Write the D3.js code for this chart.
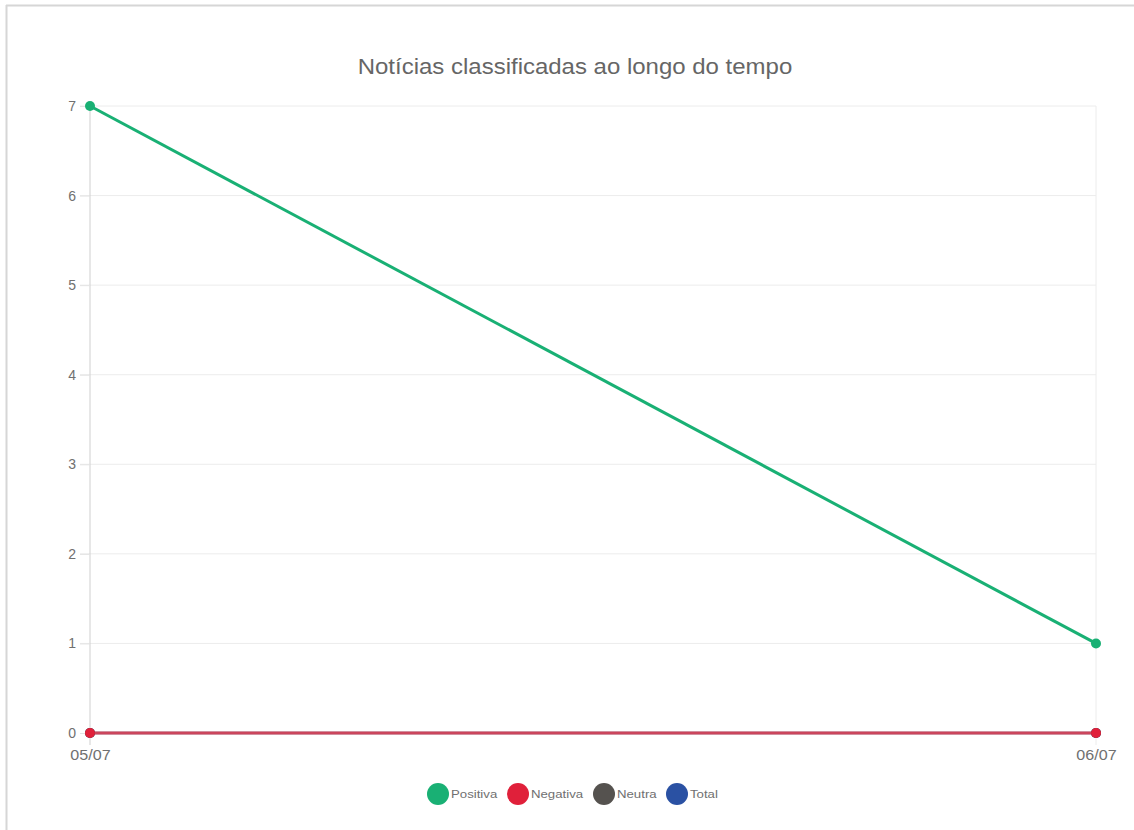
<!DOCTYPE html>
<html><head><meta charset="utf-8">
<script src="https://cdn.jsdelivr.net/npm/d3@7"></script>
<style>body{margin:0;background:#fff;}svg{display:block;font-family:"Liberation Sans",Arial,sans-serif;}</style>
</head><body><svg id="c" width="1134" height="830"></svg>
<script>
const categories = ["05/07", "06/07"];
const seriesNames = ["Positiva", "Negativa", "Neutra", "Total"];
const positiva = [7, 1];
const negativa = [0, 0];
const neutra = [0, 0];
const total = [0, 0];
const yTicks = [0, 1, 2, 3, 4, 5, 6, 7];
const colors = {Positiva: "#19b074", Negativa: "#e0203a", Neutra: "#55524f", Total: "#2a51a3"};
const title = "Notícias classificadas ao longo do tempo";

const svg = d3.select("#c");
function stretch(sel, f) {
  sel.each(function() {
    const l = this.getComputedTextLength();
    d3.select(this).attr("textLength", l * f).attr("lengthAdjust", "spacingAndGlyphs");
  });
}
// outer frame (top + left visible)
svg.append("line").attr("x1", 6).attr("x2", 1134).attr("y1", 5.5).attr("y2", 5.5).attr("stroke", "#d6d6d6").attr("stroke-width", 2);
svg.append("line").attr("x1", 6.5).attr("x2", 6.5).attr("y1", 5).attr("y2", 830).attr("stroke", "#d6d6d6").attr("stroke-width", 2);

const x = d3.scalePoint().domain(categories).range([90, 1096]);
const y = d3.scaleLinear().domain([0, 7]).range([733, 106]);

// gridlines
const g = svg.append("g");
g.selectAll(".hg").data(yTicks.filter(d => d > 0)).enter().append("line")
  .attr("x1", 80).attr("x2", 1096).attr("y1", d => y(d)).attr("y2", d => y(d))
  .attr("stroke", "#ececec").attr("stroke-width", 1);
g.append("line").attr("x1", x(categories[1])).attr("x2", x(categories[1])).attr("y1", 106).attr("y2", 745).attr("stroke", "#ececec");

// y axis
const yAxis = svg.append("g").attr("transform", "translate(90,0)")
  .call(d3.axisLeft(y).tickValues(yTicks).tickFormat(d3.format("d")).tickSize(10).tickPadding(4));
yAxis.select(".domain").attr("stroke", "#cfcfcf").attr("d", "M0,106V745");
yAxis.selectAll(".tick line").attr("stroke", "#e3e3e3");
yAxis.selectAll("text").attr("fill", "#707070").attr("font-size", 14);

// x axis
const xAxis = svg.append("g").attr("transform", "translate(0,733)")
  .call(d3.axisBottom(x).tickSize(0).tickPadding(17));
xAxis.select(".domain").remove();
xAxis.selectAll("text").attr("fill", "#707070").attr("font-size", 14).call(stretch, 1.15);
svg.append("line").attr("x1", 90).attr("x2", 1096).attr("y1", 733).attr("y2", 733).attr("stroke", "#dedede");

// title
svg.append("text").attr("x", 575).attr("y", 74).attr("text-anchor", "middle")
  .attr("fill", "#666").attr("font-size", 22).text(title).call(stretch, 1.09);

const line = d3.line().x((d, i) => x(categories[i])).y(d => y(d));
const data = [
  {name: "Total", values: total, op: 0.25},
  {name: "Neutra", values: neutra, op: 0.35},
  {name: "Positiva", values: positiva, op: 1},
  {name: "Negativa", values: negativa, op: 0.7}
];
data.forEach(s => {
  svg.append("path").datum(s.values).attr("d", line).attr("fill", "none")
    .attr("stroke", colors[s.name]).attr("stroke-width", 3).attr("stroke-opacity", s.op);
});
data.forEach(s => {
  svg.selectAll(null).data(s.values).enter().append("circle")
    .attr("cx", (d, i) => x(categories[i])).attr("cy", d => y(d)).attr("r", 5)
    .attr("fill", colors[s.name]);
});

// legend
const legX = [438, 518, 604, 677];
const leg = svg.append("g");
seriesNames.forEach((n, i) => {
  leg.append("circle").attr("cx", legX[i]).attr("cy", 794).attr("r", 11).attr("fill", colors[n]);
  leg.append("text").attr("x", legX[i] + 13).attr("y", 798).attr("font-size", 11)
    .attr("fill", "#707070").text(n).call(stretch, 1.2);
});
</script></body></html>
